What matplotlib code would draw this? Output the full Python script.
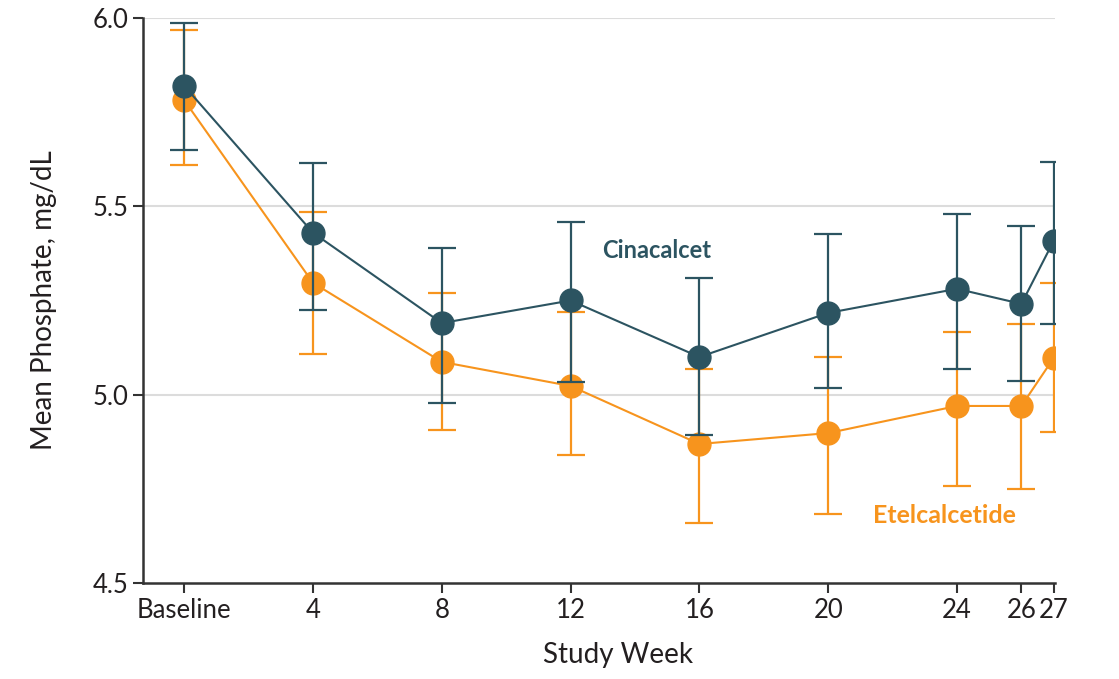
import matplotlib
matplotlib.use("Agg")
import matplotlib.pyplot as plt

plt.rcParams['font.family'] = ['Lato', 'DejaVu Sans']

weeks = [0, 4, 8, 12, 16, 20, 24, 26, 27]
week_labels = ['Baseline', '4', '8', '12', '16', '20', '24', '26', '27']

cina_mean = [5.82, 5.43, 5.19, 5.25, 5.10, 5.217, 5.281, 5.241, 5.408]
cina_upper = [5.987, 5.615, 5.389, 5.458, 5.31, 5.427, 5.48, 5.448, 5.618]
cina_lower = [5.65, 5.225, 4.978, 5.034, 4.893, 5.018, 5.068, 5.036, 5.188]

etel_mean = [5.782, 5.297, 5.087, 5.023, 4.869, 4.898, 4.97, 4.97, 5.097]
etel_upper = [5.968, 5.485, 5.27, 5.22, 5.068, 5.10, 5.166, 5.188, 5.297]
etel_lower = [5.61, 5.108, 4.906, 4.84, 4.66, 4.683, 4.758, 4.75, 4.901]

dark = '#2c5461'
orange = '#f7941d'

fig = plt.figure(figsize=(11.19, 6.79), dpi=100)
ax = fig.add_axes([0.128, 0.1414, 0.815, 0.8321])

for y in [5.0, 5.5, 6.0]:
    ax.axhline(y, color='#dcdcdc', lw=1.5, zorder=0)

def series(mean, lo, hi, color, z):
    err = [[m - l for m, l in zip(mean, lo)], [h - m for m, h in zip(mean, hi)]]
    ax.errorbar(weeks, mean, yerr=err, color=color, fmt='none', elinewidth=1.6,
                capsize=10, capthick=1.6, zorder=z)
    ax.plot(weeks, mean, color=color, lw=1.5, marker='o', markersize=16.5, zorder=z + 0.5)

series(etel_mean, etel_lower, etel_upper, orange, 3)
series(cina_mean, cina_lower, cina_upper, dark, 4)

ax.text(14.67, 5.384, 'Cinacalcet', color=dark, fontsize=17, fontweight='bold',
        ha='center', va='center')
ax.text(23.6, 4.68, 'Etelcalcetide', color=orange, fontsize=18, fontweight='bold',
        ha='center', va='center')

ax.set_xlim(-1.27, 27.05)
ax.set_ylim(4.5, 6.0)
ax.set_xticks(weeks)
ax.set_xticklabels(week_labels)
ax.set_yticks([4.5, 5.0, 5.5, 6.0])
ax.set_yticklabels(['4.5', '5.0', '5.5', '6.0'])
ax.tick_params(axis='both', labelsize=18.5, colors='#333333', direction='out', length=7, width=1.5)
ax.tick_params(axis='both', labelcolor='#231f20')

for side in ['top', 'right']:
    ax.spines[side].set_visible(False)
for side in ['left', 'bottom']:
    ax.spines[side].set_color('#333333')
    ax.spines[side].set_linewidth(1.8)

ax.set_xlabel('Study Week', fontsize=20, color='#231f20', labelpad=12)
ax.xaxis.set_label_coords(0.521, -0.105)
ax.set_ylabel('Mean Phosphate, mg/dL', fontsize=20, color='#231f20', labelpad=26)

fig.savefig('out.png', dpi=100)
